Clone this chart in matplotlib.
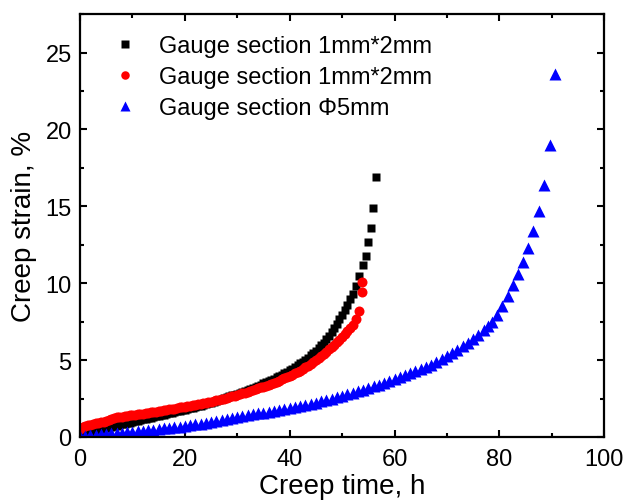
import matplotlib
matplotlib.use("Agg")
import matplotlib.pyplot as plt
from matplotlib.ticker import MultipleLocator

plt.rcParams['font.family'] = ['Liberation Sans', 'DejaVu Sans']

# series 1: gauge section 1mm*2mm (squares), read every ~0.5 h
t_sq = [0, 0.5, 1, 1.5, 2, 2.5, 3, 3.5, 4, 4.5, 5, 5.5, 6, 6.5, 7, 7.5, 8, 8.5,
        9, 9.5, 10, 10.5, 11, 11.5, 12, 12.5, 13, 13.5, 14, 14.5, 15, 15.5, 16,
        16.5, 17, 17.5, 18, 18.5, 19, 19.5, 20, 20.5, 21, 21.5, 22, 22.5, 23,
        23.5, 24, 24.5, 25, 25.5, 26, 26.5, 27, 27.5, 28, 28.5, 29, 29.5, 30,
        30.5, 31, 31.5, 32, 32.5, 33, 33.5, 34, 34.5, 35, 35.5, 36, 36.5, 37,
        37.5, 38, 38.5, 39, 39.5, 40, 40.5, 41, 41.5, 42, 42.5, 43, 43.5, 44,
        44.5, 45, 45.5, 46, 46.5, 47, 47.5, 48, 48.5, 49, 49.5, 50, 50.5, 51,
        51.5, 52, 52.6, 53.2, 54.0, 54.6, 55.0, 55.5, 55.9, 56.5]
s_sq = [0.10, 0.16, 0.22, 0.27, 0.32, 0.37, 0.42, 0.46, 0.50, 0.54, 0.58, 0.62,
        0.66, 0.70, 0.74, 0.78, 0.82, 0.86, 0.90, 0.94, 0.98, 1.02, 1.06, 1.10,
        1.14, 1.18, 1.22, 1.26, 1.30, 1.34, 1.38, 1.42, 1.46, 1.50, 1.54, 1.58,
        1.62, 1.66, 1.70, 1.74, 1.78, 1.82, 1.86, 1.90, 1.95, 2.00, 2.04, 2.09,
        2.14, 2.19, 2.24, 2.30, 2.35, 2.40, 2.46, 2.52, 2.58, 2.64, 2.70, 2.76,
        2.82, 2.88, 2.94, 3.00, 3.07, 3.13, 3.20, 3.27, 3.34, 3.41, 3.49, 3.56,
        3.64, 3.72, 3.80, 3.88, 3.97, 4.06, 4.15, 4.24, 4.34, 4.44, 4.55, 4.66,
        4.78, 4.90, 5.03, 5.16, 5.30, 5.45, 5.60, 5.77, 5.95, 6.14, 6.35, 6.57,
        6.80, 7.06, 7.35, 7.64, 7.95, 8.27, 8.60, 8.95, 9.30, 9.80, 10.5, 11.2,
        11.8, 12.7, 13.6, 14.9, 16.9]

# series 2: gauge section 1mm*2mm (circles)
t_ci = [0, 0.5, 1, 1.5, 2, 2.5, 3, 3.5, 4, 4.5, 5, 5.5, 6, 6.5, 7, 7.5, 8, 8.5,
        9, 9.5, 10, 10.5, 11, 11.5, 12, 12.5, 13, 13.5, 14, 14.5, 15, 15.5, 16,
        16.5, 17, 17.5, 18, 18.5, 19, 19.5, 20, 20.5, 21, 21.5, 22, 22.5, 23,
        23.5, 24, 24.5, 25, 25.5, 26, 26.5, 27, 27.5, 28, 28.5, 29, 29.5, 30,
        30.5, 31, 31.5, 32, 32.5, 33, 33.5, 34, 34.5, 35, 35.5, 36, 36.5, 37,
        37.5, 38, 38.5, 39, 39.5, 40, 40.5, 41, 41.5, 42, 42.5, 43, 43.5, 44,
        44.5, 45, 45.5, 46, 46.5, 47, 47.5, 48, 48.5, 49, 49.5, 50, 50.5, 51,
        51.5, 52, 52.7, 53.3, 53.8, 53.8]
s_ci = [0.55, 0.63, 0.70, 0.75, 0.80, 0.84, 0.88, 0.92, 0.95, 0.98, 1.02, 1.08,
        1.15, 1.22, 1.28, 1.31, 1.33, 1.36, 1.38, 1.40, 1.42, 1.45, 1.47, 1.50,
        1.52, 1.55, 1.57, 1.60, 1.62, 1.65, 1.67, 1.70, 1.73, 1.76, 1.79, 1.82,
        1.85, 1.88, 1.92, 1.95, 1.98, 2.01, 2.04, 2.07, 2.10, 2.13, 2.16, 2.20,
        2.23, 2.27, 2.30, 2.34, 2.38, 2.42, 2.46, 2.50, 2.55, 2.60, 2.64, 2.69,
        2.74, 2.79, 2.84, 2.89, 2.94, 3.00, 3.05, 3.10, 3.16, 3.22, 3.28, 3.34,
        3.40, 3.47, 3.53, 3.60, 3.67, 3.75, 3.82, 3.90, 3.97, 4.05, 4.14, 4.23,
        4.32, 4.42, 4.52, 4.63, 4.74, 4.86, 4.98, 5.11, 5.25, 5.40, 5.55, 5.71,
        5.88, 6.00, 6.15, 6.30, 6.50, 6.70, 6.90, 7.10, 7.30, 7.70, 8.20, 9.40,
        10.1]

# series 3: gauge section phi 5mm (triangles), read every ~1 h
t_tr = [0, 1, 2, 3, 4, 5, 6, 7, 8, 9, 10, 11, 12, 13, 14, 15, 16, 17, 18, 19,
        20, 21, 22, 23, 24, 25, 26, 27, 28, 29, 30, 31, 32, 33, 34, 35, 36, 37,
        38, 39, 40, 41, 42, 43, 44, 45, 46, 47, 48, 49, 50, 51, 52, 53, 54, 55,
        56, 57, 58, 59, 60, 61, 62, 63, 64, 65, 66, 67, 68, 69, 70, 71, 72, 73,
        74, 75, 76, 77, 77.8, 78.6, 79.5, 80.5, 81.6, 82.6, 83.6, 84.5, 85.5,
        86.5, 87.6, 88.5, 89.7, 90.6]
s_tr = [0.05, 0.08, 0.11, 0.14, 0.17, 0.20, 0.23, 0.26, 0.29, 0.32, 0.35, 0.38,
        0.41, 0.44, 0.48, 0.52, 0.56, 0.60, 0.64, 0.68, 0.72, 0.77, 0.82, 0.87,
        0.92, 0.98, 1.04, 1.10, 1.16, 1.22, 1.30, 1.36, 1.42, 1.48, 1.54, 1.58,
        1.62, 1.68, 1.74, 1.80, 1.86, 1.93, 2.00, 2.08, 2.16, 2.24, 2.32, 2.41,
        2.50, 2.59, 2.68, 2.78, 2.88, 2.98, 3.08, 3.19, 3.30, 3.41, 3.52, 3.64,
        3.76, 3.88, 4.00, 4.13, 4.26, 4.40, 4.55, 4.70, 4.87, 5.05, 5.25, 5.45,
        5.65, 5.90, 6.12, 6.38, 6.65, 6.95, 7.20, 7.45, 7.90, 8.50, 9.20, 9.90,
        10.6, 11.4, 12.3, 13.4, 14.7, 16.4, 19.0, 23.6]

labels = ['Gauge section 1mm*2mm', 'Gauge section 1mm*2mm', 'Gauge section \u03a65mm']

fig = plt.figure(figsize=(6.3, 5.02), dpi=100)
ax = fig.add_axes([0.127, 0.1275, 0.832, 0.8425])

ax.plot(t_sq, s_sq, 's', color='#000000', ms=6.2, mec='none', label=labels[0])
ax.plot(t_ci, s_ci, 'o', color='#ff0000', ms=7.2, mec='none', label=labels[1])
ax.plot(t_tr, s_tr, '^', color='#0000ff', ms=8.2, mec='none', label=labels[2])

ax.set_xlim(0, 100)
ax.set_ylim(0, 27.5)
ax.xaxis.set_major_locator(MultipleLocator(20))
ax.xaxis.set_minor_locator(MultipleLocator(10))
ax.yaxis.set_major_locator(MultipleLocator(5))
ax.yaxis.set_minor_locator(MultipleLocator(2.5))
ax.tick_params(which='both', direction='in', top=True, right=True, width=1.5,
               labelsize=17)
ax.tick_params(axis='x', pad=8)
ax.tick_params(axis='y', pad=6)
ax.tick_params(which='major', length=5)
ax.tick_params(which='minor', length=3)
for sp in ax.spines.values():
    sp.set_linewidth(1.6)

ax.set_xlabel('Creep time, h', fontsize=20, labelpad=2)
ax.set_ylabel('Creep strain, %', fontsize=20, labelpad=6)

ax.legend(loc='upper left', frameon=False, numpoints=1, fontsize=17,
          handlelength=1.0, handletextpad=0.95, labelspacing=0.38,
          borderaxespad=0, markerscale=0.85, bbox_to_anchor=(0.045, 0.973))

fig.savefig('out.png', dpi=100)
